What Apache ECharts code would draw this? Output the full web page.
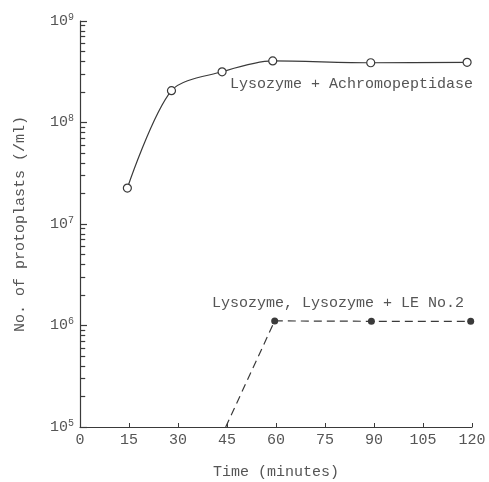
<!DOCTYPE html>
<html>
<head>
<meta charset="utf-8">
<script src="https://cdn.jsdelivr.net/npm/echarts@6/dist/echarts.min.js"></script>
<style>
  html, body { margin: 0; padding: 0; background: #fff; }
  #chart { width: 489px; height: 482px; }
</style>
</head>
<body>
<div id="chart"></div>
<script>
const xTicks = [0, 15, 30, 45, 60, 75, 90, 105, 120]
const decades = [1e5, 1e6, 1e7, 1e8]
const minorSteps = [2, 3, 4, 5, 6, 7, 8, 9]
const achroTime = [14.5, 28, 43.5, 59, 89, 118.5]
const achroCount = [2.26e7, 2.06e8, 3.16e8, 4.04e8, 3.88e8, 3.92e8]
const leTime = [44.6, 59.6, 89.2, 119.6]
const leCount = [1e5, 1.11e6, 1.1e6, 1.1e6]
const leShown = [false, true, true, true]
const achroLabel = 'Lysozyme + Achromopeptidase'
const leLabel = 'Lysozyme, Lysozyme + LE No.2'

const font = 'Liberation Mono'
const ink = '#3a3a3a'
const textInk = '#555'

// log minor ticks (2..9 in every decade), short segments from the y axis
const minorTickLen = 1.6 // in minutes, about 5px
const minorTicks = []
decades.forEach(d => minorSteps.forEach(m => {
  minorTicks.push([{ coord: [0, d * m] }, { coord: [minorTickLen, d * m] }])
}))

const chart = echarts.init(document.getElementById('chart'))
chart.setOption({
  animation: false,
  grid: { left: 80, right: 17, top: 21, bottom: 55, outerBoundsMode: 'none' },
  xAxis: {
    type: 'value', min: 0, max: 120, interval: 15,
    name: 'Time (minutes)', nameLocation: 'middle', nameGap: 38,
    nameTextStyle: { fontFamily: font, fontSize: 15, color: textInk },
    axisLine: { lineStyle: { color: ink, width: 1.2 } },
    axisTick: { inside: true, length: 4, lineStyle: { color: ink } },
    axisLabel: { fontFamily: font, fontSize: 15, color: textInk, margin: 6,
      formatter: v => xTicks.includes(v) ? String(v) : '' },
    splitLine: { show: false }
  },
  yAxis: {
    type: 'log', logBase: 10, min: 1e5, max: 1e9,
    name: 'No. of protoplasts (/ml)', nameLocation: 'middle', nameGap: 52,
    nameTextStyle: { fontFamily: font, fontSize: 15, color: textInk },
    axisLine: { lineStyle: { color: ink, width: 1.2 } },
    axisTick: { inside: true, length: 7, lineStyle: { color: ink, width: 1.2 } },
    axisLabel: {
      margin: 6,
      formatter: v => '{b|10}{s|' + Math.round(Math.log10(v)) + '}',
      rich: {
        b: { fontFamily: font, fontSize: 15, color: textInk },
        s: { fontFamily: font, fontSize: 10, color: textInk, verticalAlign: 'top', padding: [0, 0, 8, 0] }
      }
    },
    splitLine: { show: false }
  },
  series: [
    {
      type: 'line', smooth: 0.3,
      data: achroTime.map((t, i) => [t, achroCount[i]]),
      symbol: 'circle', symbolSize: 8,
      itemStyle: { color: '#fff', borderColor: ink, borderWidth: 1.2 },
      lineStyle: { color: ink, width: 1.2 },
      markLine: {
        silent: true, symbol: 'none', animation: false,
        label: { show: false },
        lineStyle: { color: ink, width: 1.2, type: 'solid' },
        data: minorTicks
      }
    },
    {
      type: 'line',
      data: leTime.map((t, i) => ({
        value: [t, leCount[i]],
        symbolSize: leShown[i] ? 7 : 0
      })),
      symbol: 'circle',
      itemStyle: { color: ink },
      lineStyle: { color: ink, width: 1.2, type: [8, 5] }
    }
  ],
  graphic: [
    { type: 'text', left: 230, top: 77,
      style: { text: achroLabel, font: '15px ' + font, fill: textInk } },
    { type: 'text', left: 212, top: 296,
      style: { text: leLabel, font: '15px ' + font, fill: textInk } }
  ]
})
</script>
</body>
</html>
